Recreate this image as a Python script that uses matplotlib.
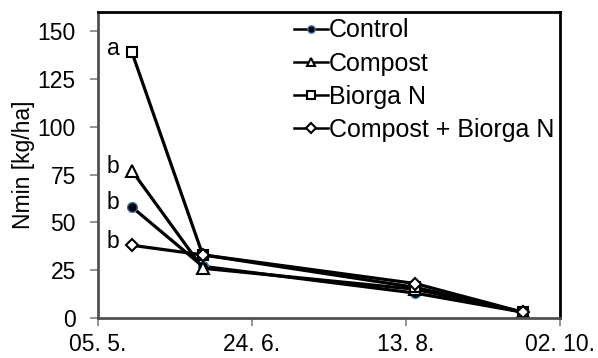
import matplotlib
matplotlib.use("Agg")
import matplotlib.pyplot as plt
import matplotlib.dates as mdates
import datetime as dt

plt.rcParams["font.family"] = ["Liberation Sans", "DejaVu Sans"]

# sampling dates and Nmin values
dates = [dt.date(2013, 5, 16), dt.date(2013, 6, 8), dt.date(2013, 8, 16), dt.date(2013, 9, 20)]
control = [58, 27, 13, 3]
compost = [77, 26, 15, 3]
biorga = [139, 33, 16, 3]
compost_biorga = [38, 33, 18, 3]
letters = ["b", "b", "a", "b"]

tick_dates = [dt.date(2013, 5, 5), dt.date(2013, 6, 24), dt.date(2013, 8, 13), dt.date(2013, 10, 2)]
tick_labels = ["05. 5.", "24. 6.", "13. 8.", "02. 10."]

fs = 16.5

fig = plt.figure(figsize=(5.98, 3.58), dpi=100)
ax = fig.add_axes([0.164, 0.112, 0.772, 0.854])

lw = 2.3
ax.plot(dates, control, color="black", lw=lw, marker="o", ms=7,
        mfc="black", mec="#3a6fb0", mew=1.0, label="Control")
ax.plot(dates, compost, color="black", lw=lw, marker="^", ms=8.5,
        mfc="white", mec="black", mew=1.5, label="Compost")
ax.plot(dates, biorga, color="black", lw=lw, marker="s", ms=7.5,
        mfc="white", mec="black", mew=1.5, label="Biorga N")
ax.plot(dates, compost_biorga, color="black", lw=lw, marker="D", ms=6.5,
        mfc="white", mec="black", mew=1.5, label="Compost + Biorga N")

first = [control[0], compost[0], biorga[0], compost_biorga[0]]
for val, let in zip(first, letters):
    ax.annotate(let, (mdates.date2num(dates[0]), val), xytext=(-9, 3),
                textcoords="offset points", ha="right", va="center", fontsize=fs)

ax.set_xlim(mdates.date2num(tick_dates[0]), mdates.date2num(tick_dates[-1]))
ax.set_xticks([mdates.date2num(d) for d in tick_dates])
ax.set_xticklabels(tick_labels)
ax.set_ylim(0, 160)
ax.set_yticks([0, 25, 50, 75, 100, 125, 150])
ax.set_ylabel("Nmin [kg/ha]", fontsize=fs, labelpad=2)

ax.tick_params(axis="y", labelsize=fs, direction="out", length=6,
               width=1.2, color="#808080", pad=10)
ax.tick_params(axis="x", labelsize=fs, direction="out", length=6,
               width=1.2, color="#808080", pad=5)
for side in ["top", "right"]:
    ax.spines[side].set_linewidth(2)
    ax.spines[side].set_color("black")
for side in ["left", "bottom"]:
    ax.spines[side].set_linewidth(2)
    ax.spines[side].set_color("#505050")

leg = ax.legend(loc="upper left", bbox_to_anchor=(0.425, 0.98), frameon=False,
                fontsize=18, handlelength=1.35, handletextpad=0.02,
                labelspacing=0.37, borderpad=0.0, borderaxespad=0, markerscale=0.75)
for h in leg.get_lines():
    h.set_linewidth(1.8)

fig.savefig("out.png", dpi=100)
